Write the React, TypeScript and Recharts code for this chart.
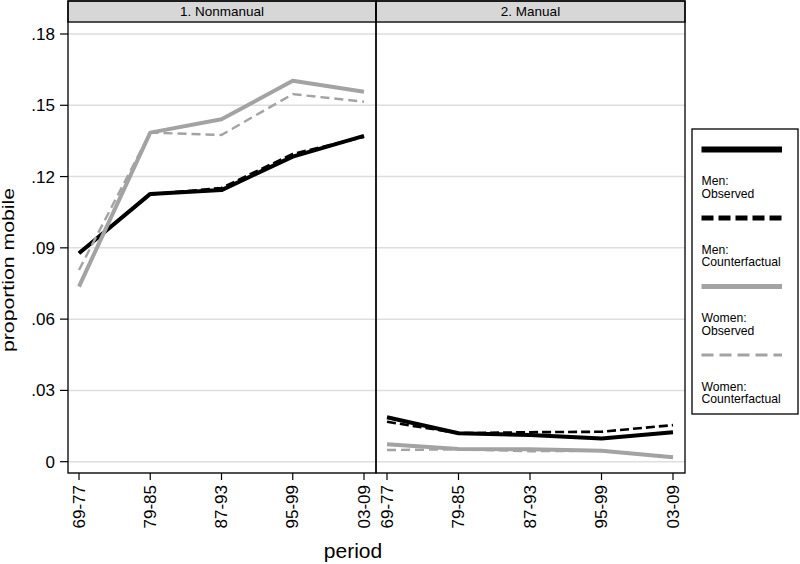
import React from 'react';
import { LineChart, Line, XAxis, YAxis, CartesianGrid } from 'recharts';

const periods = ['69-77', '79-85', '87-93', '95-99', '03-09'];
const yTicks = [0, 0.03, 0.06, 0.09, 0.12, 0.15, 0.18];
const panelTitles = ['1. Nonmanual', '2. Manual'];

// Panel 1: Nonmanual
const nonmanualMenObserved = [0.0877, 0.1127, 0.1143, 0.1284, 0.1371];
const nonmanualMenCounterfactual = [0.0879, 0.1125, 0.1152, 0.1295, 0.1367];
const nonmanualWomenObserved = [0.0737, 0.1385, 0.1441, 0.1603, 0.1557];
const nonmanualWomenCounterfactual = [0.0807, 0.1385, 0.1375, 0.1547, 0.1515];

// Panel 2: Manual
const manualMenObserved = [0.0187, 0.012, 0.0112, 0.0098, 0.0124];
const manualMenCounterfactual = [0.0168, 0.012, 0.0124, 0.0126, 0.0154];
const manualWomenObserved = [0.0073, 0.0053, 0.0052, 0.0046, 0.0019];
const manualWomenCounterfactual = [0.0049, 0.0052, 0.0044, 0.0046, 0.002];

const seriesKeys = ['menObs', 'menCf', 'womenObs', 'womenCf'];
const seriesLabels = [
  ['Men:', 'Observed'],
  ['Men:', 'Counterfactual'],
  ['Women:', 'Observed'],
  ['Women:', 'Counterfactual'],
];
const seriesColors = ['#000000', '#000000', '#a3a3a3', '#a3a3a3'];
const seriesWidths = [4, 2.6, 4, 2.4];
const seriesDash = [undefined, '9 4', undefined, '9 5'];
const legendWidths = [6, 5, 5, 3];
const legendDash = [undefined, '12 5', undefined, '12 6'];

const FONT = '"Liberation Sans", Arial, Helvetica, sans-serif';
const Y_DOMAIN: [number, number] = [-0.00476, 0.18505];

function buildData(a: number[], b: number[], c: number[], d: number[]) {
  return periods.map((p, i) => ({ period: p, menObs: a[i], menCf: b[i], womenObs: c[i], womenCf: d[i] }));
}

const nonmanualData = buildData(nonmanualMenObserved, nonmanualMenCounterfactual, nonmanualWomenObserved, nonmanualWomenCounterfactual);
const manualData = buildData(manualMenObserved, manualMenCounterfactual, manualWomenObserved, manualWomenCounterfactual);

const fmt = (v: number) => (v === 0 ? '0' : v.toFixed(2).replace(/^0/, ''));

const XTick = (props: any) => {
  const { x, y, payload } = props;
  return (
    <text
      x={x}
      y={y}
      transform={`rotate(-90 ${x} ${y})`}
      textAnchor="end"
      dominantBaseline="central"
      fontSize={17}
      fontFamily={FONT}
      fill="#000"
    >
      {payload.value}
    </text>
  );
};

function renderLines() {
  return seriesKeys.map((k, i) => (
    <Line
      key={k}
      type="linear"
      dataKey={k}
      stroke={seriesColors[i]}
      strokeWidth={seriesWidths[i]}
      strokeDasharray={seriesDash[i]}
      strokeLinejoin="round"
      dot={false}
      activeDot={false}
      isAnimationActive={false}
    />
  ));
}

export default function App() {
  const legendX = 692;
  const legendY = 129;
  return (
    <div style={{ position: 'absolute', left: 0, top: 0, width: 800, height: 564, background: '#fff', fontFamily: FONT }}>
      <div style={{ position: 'absolute', left: 0, top: 0 }}>
        <LineChart width={377} height={564} data={nonmanualData} margin={{ top: 22, right: 1, bottom: 0, left: 0 }}>
          <CartesianGrid horizontal vertical={false} stroke="#dedede" strokeWidth={1.5} />
          <XAxis
            dataKey="period"
            height={91}
            padding={{ left: 11, right: 12 }}
            axisLine={false}
            tickLine={{ stroke: '#000', strokeWidth: 1.2 }}
            tickSize={7}
            tickMargin={5}
            interval={0}
            tick={<XTick />}
          />
          <YAxis
            width={68}
            domain={Y_DOMAIN}
            ticks={yTicks}
            allowDataOverflow
            interval={0}
            axisLine={false}
            tickLine={{ stroke: '#000', strokeWidth: 1.2 }}
            tickSize={8}
            tickMargin={5}
            tickFormatter={fmt}
            tick={{ fontSize: 17, fill: '#000', fontFamily: FONT }}
          />
          {renderLines()}
        </LineChart>
      </div>
      <div style={{ position: 'absolute', left: 376, top: 0 }}>
        <LineChart width={310} height={564} data={manualData} margin={{ top: 22, right: 1, bottom: 0, left: 0 }}>
          <CartesianGrid horizontal vertical={false} stroke="#dedede" strokeWidth={1.5} />
          <XAxis
            dataKey="period"
            height={91}
            padding={{ left: 11, right: 12 }}
            axisLine={false}
            tickLine={{ stroke: '#000', strokeWidth: 1.2 }}
            tickSize={7}
            tickMargin={5}
            interval={0}
            tick={<XTick />}
          />
          <YAxis hide domain={Y_DOMAIN} ticks={yTicks} allowDataOverflow />
          {renderLines()}
        </LineChart>
      </div>
      <svg width={800} height={564} style={{ position: 'absolute', left: 0, top: 0, pointerEvents: 'none' }}>
        {/* panel frames and header strips */}
        <rect x={68} y={1} width={308} height={21} fill="#d7d7d7" stroke="#000" strokeWidth={1.3} />
        <rect x={376} y={1} width={309} height={21} fill="#d7d7d7" stroke="#000" strokeWidth={1.3} />
        <rect x={68} y={1} width={308} height={472} fill="none" stroke="#000" strokeWidth={1.3} />
        <rect x={376} y={1} width={309} height={472} fill="none" stroke="#000" strokeWidth={1.3} />
        <text x={222} y={16} textAnchor="middle" fontSize={13.5} fontFamily={FONT} fill="#000">{panelTitles[0]}</text>
        <text x={530.5} y={16} textAnchor="middle" fontSize={13.5} fontFamily={FONT} fill="#000">{panelTitles[1]}</text>
        {/* axis titles */}
        <text
          x={14}
          y={270}
          transform="rotate(-90 14 270)"
          textAnchor="middle"
          fontSize={17}
          textLength={164}
          lengthAdjust="spacingAndGlyphs"
          fontFamily={FONT}
          fill="#000"
        >
          proportion mobile
        </text>
        <text x={353} y={558} textAnchor="middle" fontSize={21} fontFamily={FONT} fill="#000">period</text>
        {/* legend */}
        <rect x={legendX} y={legendY} width={106} height={285} fill="#fff" stroke="#000" strokeWidth={1.3} />
        {seriesKeys.map((k, i) => {
          const ly = 149.5 + 68.5 * i;
          return (
            <g key={k}>
              <line
                x1={701.5}
                x2={782}
                y1={ly}
                y2={ly}
                stroke={seriesColors[i]}
                strokeWidth={legendWidths[i]}
                strokeDasharray={legendDash[i]}
              />
              <text x={701.5} y={ly + 35.5} fontSize={12.2} fontFamily={FONT} fill="#000">{seriesLabels[i][0]}</text>
              <text x={701.5} y={ly + 48} fontSize={12.2} fontFamily={FONT} fill="#000">{seriesLabels[i][1]}</text>
            </g>
          );
        })}
      </svg>
    </div>
  );
}
